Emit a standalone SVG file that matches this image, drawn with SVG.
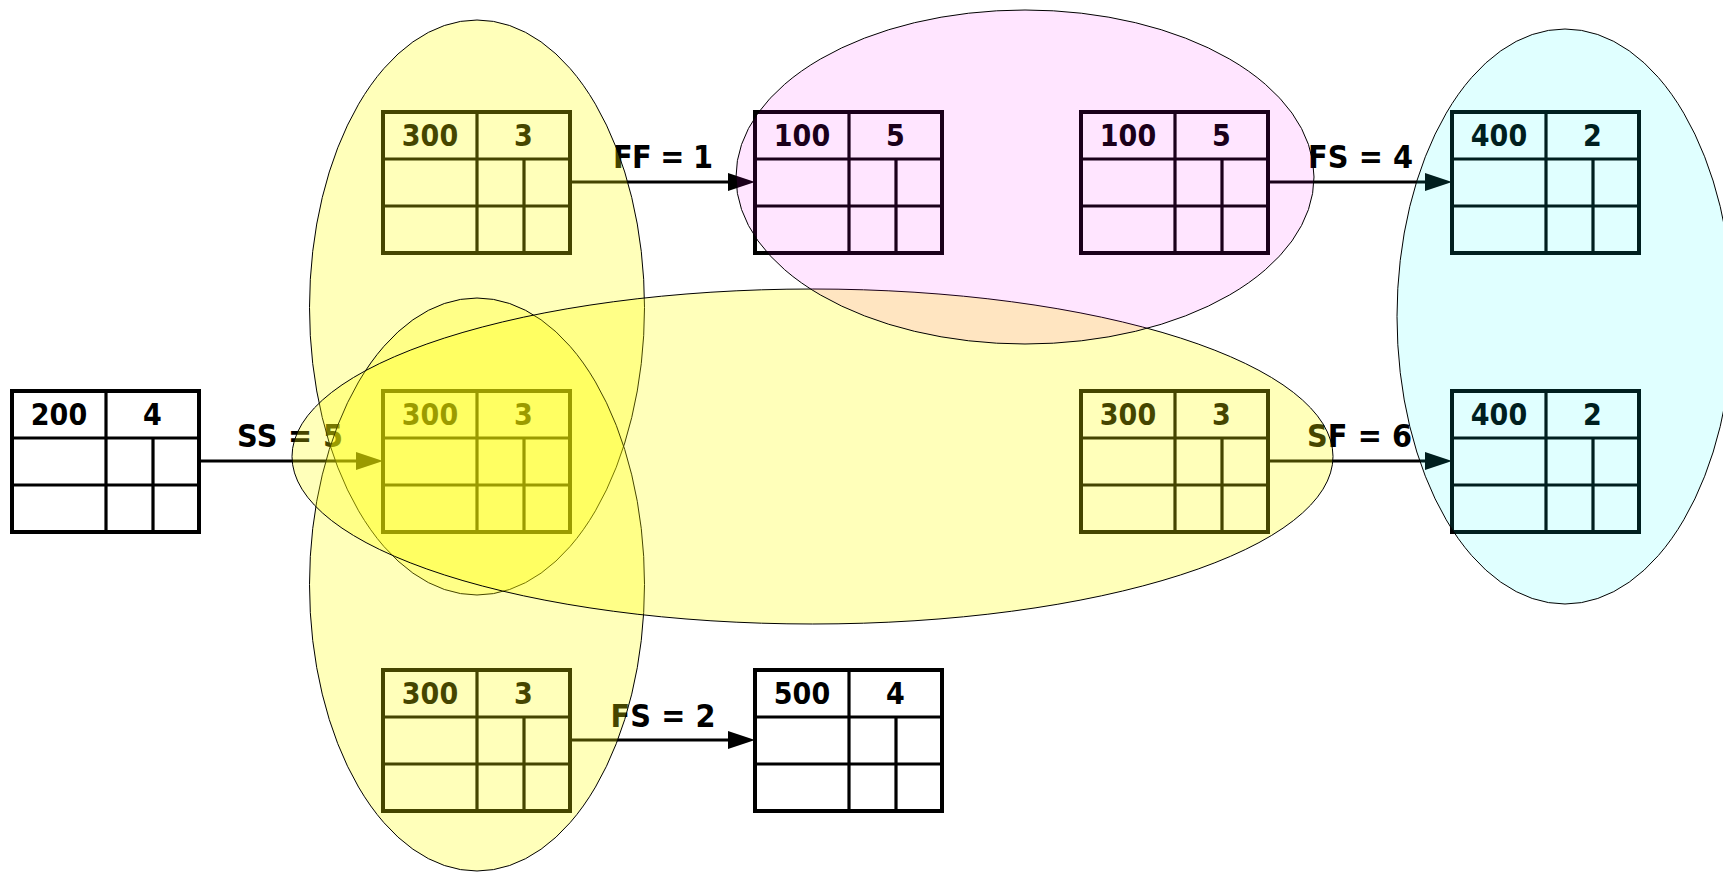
<svg xmlns="http://www.w3.org/2000/svg" xmlns:xlink="http://www.w3.org/1999/xlink" width="1723" height="872" viewBox="0 0 1723 872">
  <style>
    .frame { fill: none; stroke: #000; stroke-width: 4; stroke-linejoin: miter; }
    .rule { stroke: #000; stroke-width: 3.2; }
    .val { font-family: "DejaVu Sans Condensed", "DejaVu Sans", sans-serif; font-stretch: condensed; font-weight: bold; font-size: 30px; text-anchor: middle; fill: #000; }
    .lag { font-family: "DejaVu Sans Condensed", "DejaVu Sans", sans-serif; font-stretch: condensed; font-weight: bold; font-size: 32px; text-anchor: middle; fill: #000; }
    .link { stroke: #000; stroke-width: 3.2; fill: none; marker-end: url(#head); }
    .grp { stroke: #000; stroke-width: 1; }
    .yel { fill: #ffff00; fill-opacity: 0.27; }
    .mag { fill: #ff00ff; fill-opacity: 0.1; }
    .cya { fill: #00ffff; fill-opacity: 0.12; }
  </style>
  <defs>
    <marker id="head" markerUnits="userSpaceOnUse" markerWidth="28" markerHeight="20" refX="2" refY="9" orient="auto" overflow="visible">
      <path d="M0,0 L27,9 L0,18 Z" fill="#000"/>
    </marker>
    <!-- activity card: value / duration header, two rows below -->
    <g id="card">
      <rect class="frame" x="0" y="0" width="187" height="141"/>
      <line class="rule" x1="0" y1="47" x2="187" y2="47"/>
      <line class="rule" x1="0" y1="94" x2="187" y2="94"/>
      <line class="rule" x1="94" y1="0" x2="94" y2="141"/>
      <line class="rule" x1="141" y1="47" x2="141" y2="141"/>
    </g>
  </defs>

  <rect width="1723" height="872" fill="#fff"/>

  <!-- activity nodes -->
  <g id="n200" transform="translate(12,391)">
    <use xlink:href="#card"/>
    <text class="val" x="47" y="34">200</text>
    <text class="val" x="140.5" y="34">4</text>
  </g>
  <g id="n300-top" transform="translate(383,112)">
    <use xlink:href="#card"/>
    <text class="val" x="47" y="34">300</text>
    <text class="val" x="140.5" y="34">3</text>
  </g>
  <g id="n300-mid" transform="translate(383,391)">
    <use xlink:href="#card"/>
    <text class="val" x="47" y="34">300</text>
    <text class="val" x="140.5" y="34">3</text>
  </g>
  <g id="n300-low" transform="translate(383,670)">
    <use xlink:href="#card"/>
    <text class="val" x="47" y="34">300</text>
    <text class="val" x="140.5" y="34">3</text>
  </g>
  <g id="n100-a" transform="translate(755,112)">
    <use xlink:href="#card"/>
    <text class="val" x="47" y="34">100</text>
    <text class="val" x="140.5" y="34">5</text>
  </g>
  <g id="n500" transform="translate(755,670)">
    <use xlink:href="#card"/>
    <text class="val" x="47" y="34">500</text>
    <text class="val" x="140.5" y="34">4</text>
  </g>
  <g id="n100-b" transform="translate(1081,112)">
    <use xlink:href="#card"/>
    <text class="val" x="47" y="34">100</text>
    <text class="val" x="140.5" y="34">5</text>
  </g>
  <g id="n300-right" transform="translate(1081,391)">
    <use xlink:href="#card"/>
    <text class="val" x="47" y="34">300</text>
    <text class="val" x="140.5" y="34">3</text>
  </g>
  <g id="n400-a" transform="translate(1452,112)">
    <use xlink:href="#card"/>
    <text class="val" x="47" y="34">400</text>
    <text class="val" x="140.5" y="34">2</text>
  </g>
  <g id="n400-b" transform="translate(1452,391)">
    <use xlink:href="#card"/>
    <text class="val" x="47" y="34">400</text>
    <text class="val" x="140.5" y="34">2</text>
  </g>

  <!-- dependency links with lag labels -->
  <g id="connectors">
    <line class="link" x1="199" y1="461" x2="358" y2="461"/>
    <text class="lag" x="290" y="447" textLength="106" lengthAdjust="spacing">SS = 5</text>
    <line class="link" x1="570" y1="182" x2="730" y2="182"/>
    <text class="lag" x="663" y="168" textLength="100" lengthAdjust="spacing">FF = 1</text>
    <line class="link" x1="1268" y1="182" x2="1427" y2="182"/>
    <text class="lag" x="1360.5" y="168" textLength="105" lengthAdjust="spacing">FS = 4</text>
    <line class="link" x1="1268" y1="461" x2="1427" y2="461"/>
    <text class="lag" x="1359.5" y="447" textLength="105" lengthAdjust="spacing">SF = 6</text>
    <line class="link" x1="570" y1="740" x2="730" y2="740"/>
    <text class="lag" x="663" y="727" textLength="105" lengthAdjust="spacing">FS = 2</text>
  </g>

  <!-- translucent grouping ellipses laid over the network -->
  <g id="groupings">
    <ellipse class="grp yel" cx="477" cy="307.5" rx="167.5" ry="287.5"/>
    <ellipse class="grp yel" cx="477" cy="584.5" rx="167.5" ry="286.5"/>
    <ellipse class="grp yel" cx="812.5" cy="456.5" rx="520.5" ry="167.5"/>
    <ellipse class="grp mag" cx="1025" cy="177" rx="289" ry="167"/>
    <ellipse class="grp cya" cx="1565" cy="316.5" rx="168" ry="287.5"/>
  </g>
</svg>
